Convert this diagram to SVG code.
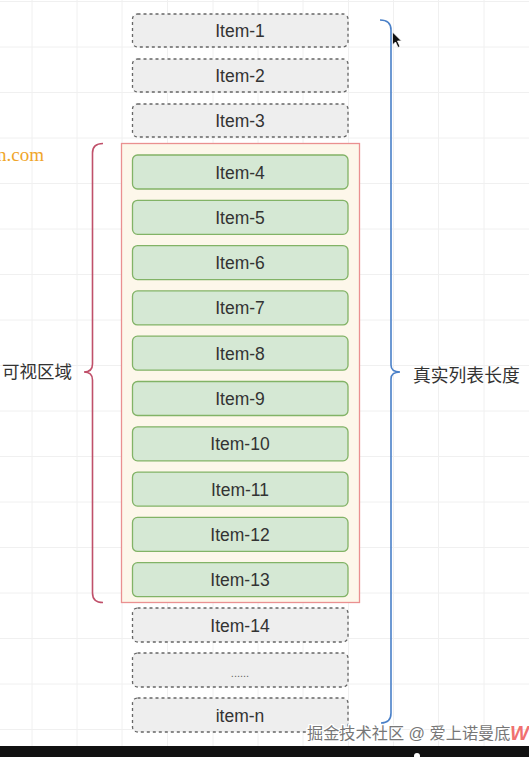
<svg xmlns="http://www.w3.org/2000/svg" width="529" height="757" viewBox="0 0 529 757">
<defs>
<style>
.grid line{stroke:#f0f0f0;stroke-width:1}
.dash{fill:#eeeeee;stroke:#666666;stroke-width:1.3;stroke-dasharray:3 3}
.green{fill:#d5e8d4;stroke:#82b366;stroke-width:1.3}
.lbl{font-family:"Liberation Sans",Arial,sans-serif;font-size:17.5px;fill:#333333;text-anchor:middle}
.cjk{font-family:"Liberation Sans","Noto Sans CJK SC",sans-serif;fill:#333333}
.brace{fill:none;stroke-width:1.6}
</style>
</defs>
<rect x="0" y="0" width="529" height="757" fill="#ffffff"/>
<g class="grid">
<line x1="32" y1="0" x2="32" y2="746"/><line x1="77" y1="0" x2="77" y2="746"/><line x1="122" y1="0" x2="122" y2="746"/><line x1="167.5" y1="0" x2="167.5" y2="746"/><line x1="213" y1="0" x2="213" y2="746"/><line x1="258" y1="0" x2="258" y2="746"/><line x1="303" y1="0" x2="303" y2="746"/><line x1="348.5" y1="0" x2="348.5" y2="746"/><line x1="393.5" y1="0" x2="393.5" y2="746"/><line x1="438.5" y1="0" x2="438.5" y2="746"/><line x1="484" y1="0" x2="484" y2="746"/>
<line x1="0" y1="1.5" x2="529" y2="1.5"/><line x1="0" y1="47" x2="529" y2="47"/><line x1="0" y1="92.5" x2="529" y2="92.5"/><line x1="0" y1="138" x2="529" y2="138"/><line x1="0" y1="183.5" x2="529" y2="183.5"/><line x1="0" y1="229" x2="529" y2="229"/><line x1="0" y1="274.5" x2="529" y2="274.5"/><line x1="0" y1="320" x2="529" y2="320"/><line x1="0" y1="365.5" x2="529" y2="365.5"/><line x1="0" y1="411" x2="529" y2="411"/><line x1="0" y1="456.5" x2="529" y2="456.5"/><line x1="0" y1="502" x2="529" y2="502"/><line x1="0" y1="547.5" x2="529" y2="547.5"/><line x1="0" y1="593" x2="529" y2="593"/><line x1="0" y1="638.5" x2="529" y2="638.5"/><line x1="0" y1="684" x2="529" y2="684"/><line x1="0" y1="729.5" x2="529" y2="729.5"/>
</g>
<text x="44" y="161" text-anchor="end" font-family="Liberation Serif,serif" font-size="19" fill="#f0a52a">n.com</text>
<g id="viewport">
<rect x="121.5" y="143.5" width="238" height="459" fill="#fdf7ea" stroke="#ea9090" stroke-width="1.3"/>
</g>
<g id="item-1"><rect class="dash" x="132.5" y="14" width="215.5" height="33" rx="5"/><text class="lbl" x="240" y="37">Item-1</text></g>
<g id="item-2"><rect class="dash" x="132.5" y="59" width="215.5" height="33" rx="5"/><text class="lbl" x="240" y="82">Item-2</text></g>
<g id="item-3"><rect class="dash" x="132.5" y="104" width="215.5" height="33" rx="5"/><text class="lbl" x="240" y="127">Item-3</text></g>
<g id="item-4"><rect class="green" x="132.5" y="155" width="215.5" height="34" rx="5"/><text class="lbl" x="240" y="178.5">Item-4</text></g>
<g id="item-5"><rect class="green" x="132.5" y="200.3" width="215.5" height="34" rx="5"/><text class="lbl" x="240" y="223.8">Item-5</text></g>
<g id="item-6"><rect class="green" x="132.5" y="245.6" width="215.5" height="34" rx="5"/><text class="lbl" x="240" y="269.1">Item-6</text></g>
<g id="item-7"><rect class="green" x="132.5" y="290.9" width="215.5" height="34" rx="5"/><text class="lbl" x="240" y="314.4">Item-7</text></g>
<g id="item-8"><rect class="green" x="132.5" y="336.2" width="215.5" height="34" rx="5"/><text class="lbl" x="240" y="359.7">Item-8</text></g>
<g id="item-9"><rect class="green" x="132.5" y="381.5" width="215.5" height="34" rx="5"/><text class="lbl" x="240" y="405">Item-9</text></g>
<g id="item-10"><rect class="green" x="132.5" y="426.8" width="215.5" height="34" rx="5"/><text class="lbl" x="240" y="450.3">Item-10</text></g>
<g id="item-11"><rect class="green" x="132.5" y="472.1" width="215.5" height="34" rx="5"/><text class="lbl" x="240" y="495.6">Item-11</text></g>
<g id="item-12"><rect class="green" x="132.5" y="517.4" width="215.5" height="34" rx="5"/><text class="lbl" x="240" y="540.9">Item-12</text></g>
<g id="item-13"><rect class="green" x="132.5" y="562.7" width="215.5" height="34" rx="5"/><text class="lbl" x="240" y="586.2">Item-13</text></g>
<g id="item-14"><rect class="dash" x="132.5" y="608" width="215.5" height="34" rx="5"/><text class="lbl" x="240" y="631.5">Item-14</text></g>
<g id="item-dots"><rect class="dash" x="132.5" y="653" width="215.5" height="34" rx="5"/><text x="240" y="677" text-anchor="middle" font-family="Liberation Sans,sans-serif" font-size="11" fill="#666666">......</text></g>
<g id="item-n"><rect class="dash" x="132.5" y="698" width="215.5" height="34" rx="5"/><text class="lbl" x="240" y="721.5">item-n</text></g>
<g id="connectors">
<path class="brace" stroke="#c0506a" d="M103,143.5 Q92.5,143.5 92.5,153 L92.5,364 Q92.5,372 84,372 Q92.5,372 92.5,380 L92.5,593 Q92.5,602.5 103,602.5"/>
<path class="brace" stroke="#4a80c8" d="M380,20 Q391,20 391,30 L391,365 Q391,372 400,372 Q391,372 391,379 L391,713 Q391,723 381,723"/>
</g>
<g id="label-visible"><text class="cjk" x="72" y="378" font-size="17.5" text-anchor="end">可视区域</text></g>
<g id="label-real"><text class="cjk" x="413" y="381.5" font-size="17.8">真实列表长度</text></g>
<polygon points="392.5,32 392.5,45 395.5,42 398,47.5 400,46.5 397.5,41 401.5,41" fill="#111111" stroke="#ffffff" stroke-width="0.8"/>
<text x="307" y="739" font-family="Liberation Sans,'Noto Sans CJK SC',sans-serif" font-size="16.2" fill="#777777" stroke="#ffffff" stroke-width="2.5" paint-order="stroke">掘金技术社区 @ 爱上诺曼底</text>
<text x="510" y="740" font-family="Liberation Sans,sans-serif" font-size="20" font-weight="bold" font-style="italic" fill="#f07070">WY</text>
<rect x="0" y="746" width="529" height="11" fill="#111111"/>
<circle cx="417" cy="756" r="3" fill="#ffffff"/>
</svg>
